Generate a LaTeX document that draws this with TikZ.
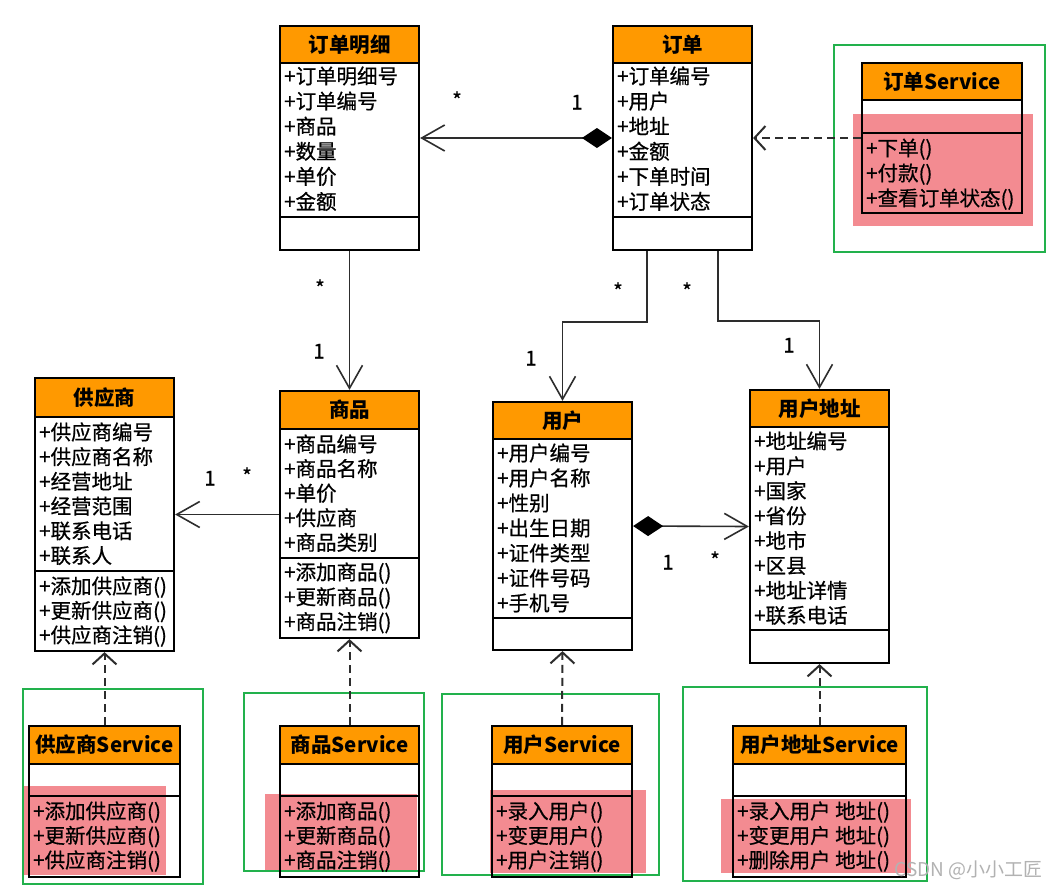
\documentclass[tikz,border=0pt]{standalone}
\usepackage{fontspec}
\setmainfont{Noto Sans CJK SC}
\newfontfamily\rowf{Noto Sans CJK SC}[FakeBold=0.6]
\usetikzlibrary{arrows.meta,fit,calc}
\definecolor{hdr}{RGB}{255,153,0}
\definecolor{pinkbg}{RGB}{243,139,145}
\definecolor{frameg}{RGB}{34,177,76}
\definecolor{lineg}{RGB}{45,45,45}
\tikzset{
  boxframe/.style={draw=black, line width=2.2pt, inner sep=0pt},
  sepline/.style={draw=black, line width=2.2pt},
  titletext/.style={font=\fontsize{20.5}{24}\selectfont\bfseries, inner sep=0pt, text height=18pt, text depth=2.5pt},
  rowtext/.style={font=\rowf\fontsize{20.5}{24}\selectfont, anchor=west, inner sep=0pt, text height=18pt, text depth=2.5pt},
  mult/.style={font=\rowf\fontsize{20.5}{24}\selectfont, anchor=base, inner sep=0pt},
  multstar/.style={mult, yshift=-11.8pt},
  multone/.style={mult, yshift=-7.5pt},
  assoc/.style={draw=lineg, line width=1.6pt},
  depend/.style={draw=lineg, line width=2pt, dash pattern=on 8pt off 5pt},
  greenbox/.style={draw=frameg, line width=1.2pt},
  pinkbox/.style={fill=pinkbg},
  wm/.style={font=\fontsize{19}{22}\selectfont, text=black!30, inner sep=0pt},
}
\newcommand\classbox[8]{%
  \fill[hdr] (#2,#4) rectangle (#3,#5);
  \draw[sepline] (#2,#5) -- (#3,#5) (#2,#6) -- (#3,#6);
  \node[boxframe, fit={(#2,#4) (#3,#7)}] (#1) {};
  \node[titletext] (#1-t) at ({(#2+#3)/2},{(#4+#5)/2}) {#8};
}
\newcommand\classrows[5]{%
  \foreach \t [count=\i] in {#5} {\node[rowtext] (#1-\i) at (#2,{#3+#4*(\i-1)}) {\t};}
}
\begin{document}
\begin{tikzpicture}[x=1pt,y=-1pt]
\useasboundingbox[fill=white] (0,0) rectangle (1048,889);

% pink highlights
\fill[pinkbox] (853,114) rectangle (1033,226);
\fill[pinkbox] (23,786) rectangle (166,875);
\fill[pinkbox] (265,794) rectangle (417,871);
\fill[pinkbox] (490,790) rectangle (646,873);
\fill[pinkbox] (721,799) rectangle (911,873);

% green frames
\draw[greenbox] (834,45) rectangle (1045,252);
\draw[greenbox] (23,689) rectangle (203,884);
\draw[greenbox] (244,693) rectangle (424,871);
\draw[greenbox] (442,694) rectangle (659,875);
\draw[greenbox] (683,687) rectangle (927,881);

% classes
\classbox{detail}{280}{419}{26}{63}{217}{250}{订单明细}
\classrows{detail-a}{284}{76}{25.1}{+订单明细号,+订单编号,+商品,+数量,+单价,+金额}

\classbox{order}{613}{752}{26}{63}{217}{250}{订单}
\classrows{order-a}{617}{76}{25.1}{+订单编号,+用户,+地址,+金额,+下单时间,+订单状态}

\classbox{orderSvc}{862}{1022}{63}{100}{133}{213}{订单Service}
\classrows{orderSvc-m}{866}{148}{25}{+下单(),+付款(),+查看订单状态()}

\classbox{supplier}{35}{174}{378}{417}{571}{651}{供应商}
\classrows{supplier-a}{39}{432}{24.7}{+供应商编号,+供应商名称,+经营地址,+经营范围,+联系电话,+联系人}
\classrows{supplier-m}{39}{586}{24.5}{+添加供应商(),+更新供应商(),+供应商注销()}

\classbox{goods}{280}{419}{391}{429}{558}{638}{商品}
\classrows{goods-a}{284}{444}{24.6}{+商品编号,+商品名称,+单价,+供应商,+商品类别}
\classrows{goods-m}{284}{572}{24.8}{+添加商品(),+更新商品(),+商品注销()}

\classbox{user}{493}{632}{402}{439}{618}{650}{用户}
\classrows{user-a}{497}{453}{25}{+用户编号,+用户名称,+性别,+出生日期,+证件类型,+证件号码,+手机号}

\classbox{addr}{750}{889}{390}{427}{630}{663}{用户地址}
\classrows{addr-a}{754}{441}{24.9}{+地址编号,+用户,+国家,+省份,+地市,+区县,+地址详情,+联系电话}

\classbox{supSvc}{29}{180}{726}{764}{796}{877}{供应商Service}
\classrows{supSvc-m}{33}{811}{24.5}{+添加供应商(),+更新供应商(),+供应商注销()}

\classbox{goodsSvc}{280}{419}{726}{764}{796}{877}{商品Service}
\classrows{goodsSvc-m}{284}{811}{24.5}{+添加商品(),+更新商品(),+商品注销()}

\classbox{userSvc}{492}{632}{726}{764}{796}{877}{用户Service}
\classrows{userSvc-m}{496}{811}{24.5}{+录入用户(),+变更用户(),+用户注销()}

\classbox{addrSvc}{733}{906}{726}{764}{796}{877}{用户地址Service}
\classrows{addrSvc-m}{737}{811}{24.5}{+录入用户 地址(),+变更用户 地址(),+删除用户 地址()}

% associations
\draw[assoc, {Diamond[length=30pt,width=20pt,color=black]}-{Straight Barb[length=23pt,width=26pt]}] (order.west) -- (detail.east);
\draw[assoc, -{Straight Barb[length=23pt,width=26pt]}] (detail.south) -- (goods.north);
\draw[assoc, -{Straight Barb[length=23pt,width=26pt]}] ([xshift=35pt]order.south west) -- ++(0,71) -| (user.north);
\draw[assoc, -{Straight Barb[length=23pt,width=26pt]}] ([xshift=-35pt]order.south east) -- ++(0,70) -| (addr.north);
\draw[assoc, -{Straight Barb[length=23pt,width=26pt]}] (goods.west) -- (supplier.east);
\draw[assoc, {Diamond[length=30pt,width=20pt,color=black]}-{Straight Barb[length=23pt,width=26pt]}] (user.east) -- (addr.west);

% dependencies
\draw[depend, -{Straight Barb[length=11pt,width=24pt]}] (orderSvc.west) -- (order.east);
\draw[depend, -{Straight Barb[length=11pt,width=24pt]}] (supSvc.north) -- (supplier.south);
\draw[depend, -{Straight Barb[length=11pt,width=24pt]}] (goodsSvc.north) -- (goods.south);
\draw[depend, -{Straight Barb[length=11pt,width=24pt]}] (userSvc.north) -- (user.south);
\draw[depend, -{Straight Barb[length=11pt,width=24pt]}] (addrSvc.north) -- (addr.south);

% multiplicities
\node[multstar] (l1) at (457,96) {*};
\node[multone] (l2) at (577,102) {1};
\node[multstar] (l3) at (320,284) {*};
\node[multone] (l4) at (319,351) {1};
\node[multstar] (l5) at (618,287) {*};
\node[multstar] (l6) at (687,287) {*};
\node[multone] (l7) at (531,358) {1};
\node[multone] (l8) at (789,345) {1};
\node[multone] (l9) at (210,478) {1};
\node[multstar] (l10) at (247,472) {*};
\node[multone] (l11) at (668,562) {1};
\node[multstar] (l12) at (715,556) {*};

% watermark
\node[wm, anchor=east] (wm) at (1043,870) {CSDN @小小工匠};
\end{tikzpicture}
\end{document}
